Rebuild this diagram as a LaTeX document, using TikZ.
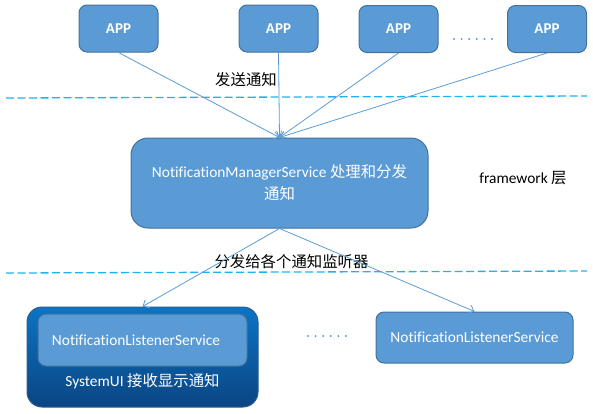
\documentclass[tikz,border=0pt]{standalone}
\usepackage{fontspec}
\setmainfont[Ligatures=NoCommon]{Carlito}
\newfontfamily\cjk{Noto Sans CJK SC}
\usetikzlibrary{arrows.meta}
\definecolor{boxfill}{HTML}{5B9BD5}
\definecolor{boxline}{HTML}{41719C}
\definecolor{dashc}{HTML}{1FB2EE}
\definecolor{sysTop}{HTML}{0B74C4}
\definecolor{sysBot}{HTML}{0B4583}
\definecolor{sysLine}{HTML}{2C5E90}
\tikzset{
  blue box/.style={draw=boxline, line width=1pt, fill=boxfill, text=white, inner sep=0pt, align=center, font=\fontsize{15.4}{22}\selectfont},
  appbox/.style={blue box, rounded corners=8pt, minimum width=79pt, minimum height=47pt, font=\fontsize{15}{18}\selectfont\bfseries},
  conn/.style={draw=boxfill, line width=0.8pt, -{Straight Barb[length=5pt,width=9pt,line width=0.8pt]}},
  sep line/.style={draw=dashc, line width=1.3pt, dash pattern=on 8pt off 3.5pt},
  lbl/.style={inner sep=0pt, font=\fontsize{15.4}{18}\selectfont},
  dotc/.style={fill=boxfill, draw=none},
}
\newcommand{\zh}[1]{{\cjk #1}}
\begin{document}
\begin{tikzpicture}[x=1pt,y=-1pt]
\useasboundingbox (0,0) rectangle (593,413);
% APP boxes
\node[appbox] (app1) at (118.5,28.5) {APP};
\node[appbox] (app2) at (278.5,28.5) {APP};
\node[appbox] (app3) at (398.5,29) {APP};
\node[appbox] (app4) at (547,29) {APP};
% dots between app3 and app4
\foreach \i in {0,...,5} { \fill[dotc] (454+7.6*\i,39) circle (1.1pt); }
% separator lines
\coordinate (l1a) at (6,98);
\coordinate (l1b) at (587,96);
\coordinate (l2a) at (6,273);
\coordinate (l2b) at (587,271);
\draw[sep line] (l1a) -- (l1b);
\draw[sep line] (l2a) -- (l2b);
% NMS
\node[blue box, rounded corners=17pt, minimum width=297pt, minimum height=90pt] (nms) at (279.5,183)
  {NotificationManagerService \zh{处理和分发}\\ \zh{通知}};
% labels
\node[lbl] (send) at (246,80) {\zh{发送通知}};
\node[lbl] (dist) at (291.5,262) {\zh{分发给各个通知监听器}};
\node[lbl] (fw) at (523,178) {framework \zh{层}};
% SystemUI
\node[draw=sysLine, line width=1pt, top color=sysTop, bottom color=sysBot, rounded corners=15pt,
      minimum width=231pt, minimum height=100pt, inner sep=0pt] (sysui) at (142.5,357) {};
\node[blue box, rounded corners=8pt, minimum width=209pt, minimum height=52pt] (nls1) at (142.5,340)
  {NotificationListenerService\hspace*{13pt}};
\node[lbl, text=white] (sysl) at (142.5,381) {SystemUI \zh{接收显示通知}};
% right NLS
\node[blue box, rounded corners=8pt, minimum width=197pt, minimum height=51pt] (nls2) at (474.5,337.5)
  {NotificationListenerService};
\foreach \i in {0,...,5} { \fill[dotc] (308+7.6*\i,336) circle (1.1pt); }
% connectors
\draw[conn] (app1.south) -- (nms.north);
\draw[conn] (app2.south) -- (nms.north);
\draw[conn] (app3.south) -- (nms.north);
\draw[conn] (app4.south) -- (nms.north);
\draw[conn] (nms.south) -- (sysui.north);
\draw[conn] (nms.south) -- (nls2.north);
\end{tikzpicture}
\end{document}
